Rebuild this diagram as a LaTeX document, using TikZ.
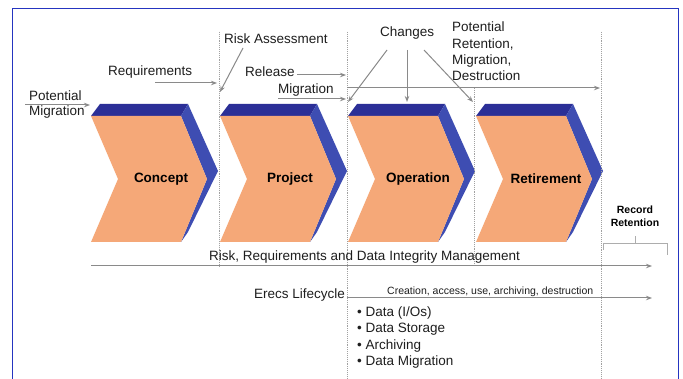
\documentclass[tikz,border=0pt]{standalone}
\usepackage{fontspec}
\setmainfont{Liberation Sans}
\usetikzlibrary{arrows.meta}

\definecolor{chevfront}{HTML}{F5A878}
\definecolor{chevtop}{HTML}{2B2F97}
\definecolor{chevside}{HTML}{3E4DB2}
\definecolor{framecol}{HTML}{2535C0}
\definecolor{arrowgray}{HTML}{8A8A8A}
\definecolor{txt}{HTML}{1E1E1E}

\tikzset{
	lbl/.style={font=\fontsize{13.5}{15}\selectfont, text=txt, inner sep=0pt, anchor=west, align=left},
	small/.style={font=\fontsize{10.5}{12}\selectfont, text=txt, inner sep=0pt, anchor=west},
	phase/.style={font=\bfseries\fontsize{13.5}{16}\selectfont, text=black, inner sep=0pt},
	flow/.style={draw=arrowgray, line width=1pt, -{Stealth[length=6pt,width=4.5pt]}},
	gate/.style={draw=arrowgray!80, densely dotted, line width=0.9pt},
}

\begin{document}
\begin{tikzpicture}[x=1pt,y=-1pt]

	\useasboundingbox (0,0) rectangle (683,379);
	\fill[white] (0,0) rectangle (683,379);

	% frame
	\draw[framecol, line width=1.4pt] (12.5,380) -- (12.5,8.5) -- (678.5,8.5) -- (678.5,380);

	% chevrons
	\foreach \x/\name/\id in {91/Concept/concept, 220/Project/project, 348/Operation/operation, 476/Retirement/retire} {
		\fill[chevtop] (\x,116) -- (\x+9,104) -- (\x+97,104) -- (\x+90,116) -- cycle;
		\fill[chevside] (\x+90,116) -- (\x+97,104) -- (\x+127,171) -- (\x+97,232) -- (\x+90,242) -- (\x+116,179) -- cycle;
		\fill[chevfront] (\x,116) -- (\x+90,116) -- (\x+116,179) -- (\x+90,242) -- (\x,242) -- (\x+27,179) -- cycle;
		\node[phase] (\id) at (\x+70,179) {\name};
	}

	% gates
	\draw[gate] (219,32) -- (219,266);
	\draw[gate] (347,32) -- (347,379);
	\draw[gate] (474,88) -- (474,266);
	\draw[gate] (601,32) -- (601,379);

	% labels
	\node[lbl] (potmig) at (29,104.5) {Potential\\Migration};
	\node[lbl] (req) at (108,72) {Requirements};
	\node[lbl] (riskas) at (224,39) {Risk Assessment};
	\node[lbl] (release) at (245,72) {Release};
	\node[lbl] (migr) at (278,90) {Migration};
	\node[lbl] (changes) at (380,33) {Changes};
	\node[lbl, font=\fontsize{13.5}{16.3}\selectfont] (potret) at (452,51.5) {Potential\\Retention,\\Migration,\\Destruction};
	\node[lbl] (riskmgmt) at (209,257) {Risk, Requirements and Data Integrity Management};
	\node[lbl] (erecs) at (254,295) {Erecs Lifecycle};
	\node[small] (creation) at (387,292) {Creation, access, use, archiving, destruction};
	\node[lbl, font=\fontsize{13.5}{16.3}\selectfont] (items) at (357,337.5) {• Data (I/Os)\\• Data Storage\\• Archiving\\• Data Migration};
	\node[phase, font=\bfseries\fontsize{10.5}{13}\selectfont, align=center] (record) at (635,216.5) {Record\\Retention};

	% arrow ends
	\coordinate (potmig-a) at (25,105);
	\coordinate (potmig-b) at (90,105);
	\coordinate (req-a) at (155,83);
	\coordinate (req-b) at (217,83);
	\coordinate (riskas-a) at (243,48);
	\coordinate (riskas-b) at (220,92);
	\coordinate (release-a) at (297,75);
	\coordinate (release-b) at (346,75);
	\coordinate (migr-a) at (278,99);
	\coordinate (migr-b) at (346,99);
	\coordinate (long-a) at (347,88);
	\coordinate (long-b) at (600,88);
	\coordinate (ch-a) at (387,50);
	\coordinate (ch-b) at (407,50);
	\coordinate (ch-c) at (424,50);
	\coordinate (op-in) at (348,102);
	\coordinate (op-top) at (407,102);
	\coordinate (re-in) at (473,102);
	\coordinate (mgmt-a) at (91,266);
	\coordinate (mgmt-b) at (652,266);
	\coordinate (life-a) at (347,298);
	\coordinate (life-b) at (652,298);

	% arrows
	\draw[flow] (potmig-a) -- (potmig-b);
	\draw[flow] (req-a) -- (req-b);
	\draw[flow] (riskas-a) -- (riskas-b);
	\draw[flow] (release-a) -- (release-b);
	\draw[flow] (migr-a) -- (migr-b);
	\draw[flow] (long-a) -- (long-b);
	\draw[flow] (ch-a) -- (op-in);
	\draw[flow] (ch-b) -- (op-top);
	\draw[flow] (ch-c) -- (re-in);
	\draw[flow] (mgmt-a) -- (mgmt-b);
	\draw[flow] (life-a) -- (life-b);

	% record retention bracket
	\draw[arrowgray!70, line width=0.8pt] (603,250) -- (603,243) -- (667,243) -- (667,255);
	\draw[arrowgray!70, line width=0.8pt] (record.south |- 0,243) -- (635,236);

\end{tikzpicture}
\end{document}
